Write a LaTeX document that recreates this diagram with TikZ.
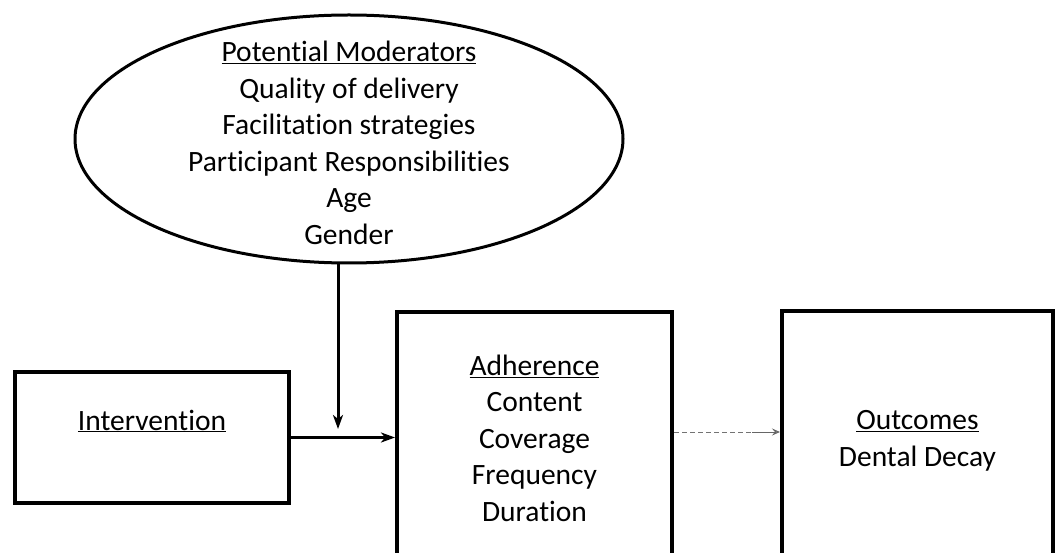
\documentclass[tikz,border=0pt]{standalone}
\usepackage{fontspec}
\setmainfont[Ligatures=NoCommon]{Carlito}
\usetikzlibrary{shapes.geometric,arrows.meta}
\begin{document}
\begin{tikzpicture}[x=1pt,y=-1pt,
  txt/.style={font=\fontsize{29.5}{36.5}\selectfont, align=center, inner sep=0pt, text=black},
  boxshape/.style={draw=black, line width=4pt, inner sep=0pt},
  thickarrow/.style={draw=black, line width=3pt, -{Stealth[length=14pt,width=10pt,inset=4pt]}},
  dashseg/.style={draw=black!55, line width=1pt, dash pattern=on 5pt off 3pt},
  thinarrow/.style={draw=black!60, line width=1pt, -{Stealth[length=8pt,width=7pt,inset=3pt,open]}}
]
\useasboundingbox (0,0) rectangle (1058,553);
\clip (0,0) rectangle (1058,553);
\fill[white] (0,0) rectangle (1058,553);

% shapes
\node[ellipse, draw=black, line width=3pt, inner sep=0pt, minimum width=548pt, minimum height=248pt] (ell) at (349,139) {};
\node[boxshape, minimum width=274pt, minimum height=131pt] (interv) at (152,437.5) {};
\node[boxshape, minimum width=275pt, minimum height=308pt] (adher) at (534.5,466) {};
\node[boxshape, minimum width=271pt, minimum height=309pt] (outc) at (917.5,465.5) {};

% texts
\node[txt] (elltxt) at (349,143) {\underline{Potential Moderators}\\Quality of delivery\\Facilitation strategies\\Participant Responsibilities\\Age\\Gender};
\node[txt] (intervtxt) at (152,421) {\underline{Intervention}};
\node[txt] (adhertxt) at (534.5,438) {\underline{Adherence}\\Content\\Coverage\\Frequency\\Duration};
\node[txt] (outctxt) at (917.5,441) {\underline{Outcomes}\\Dental Decay};

% connectors
\coordinate (vtip) at (338,429);
\coordinate (dy) at (0,432);
\coordinate (dmid) at (752,432);
\draw[thickarrow] (vtip |- ell.south) -- (vtip);
\draw[thickarrow] (interv.east) -- (interv.east -| adher.west);
\draw[dashseg] (adher.east |- dy) -- (dmid);
\draw[thinarrow] (dmid) -- (outc.west |- dy);
\end{tikzpicture}
\end{document}
